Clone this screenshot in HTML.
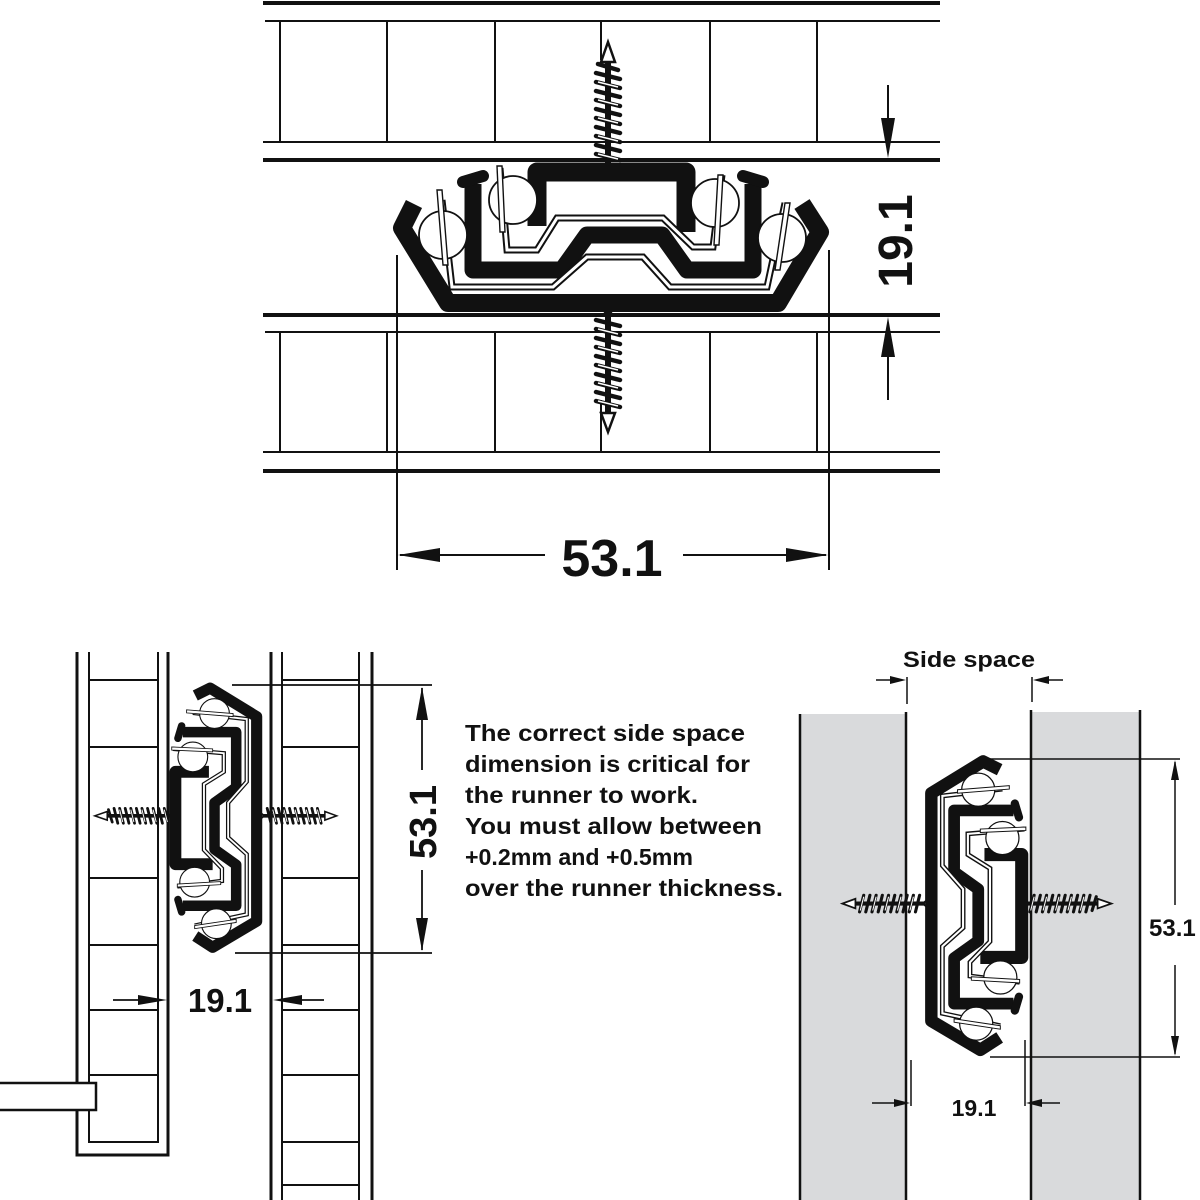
<!DOCTYPE html>
<html><head><meta charset="utf-8"><style>
html,body{margin:0;padding:0;background:#fff;}
svg{display:block;}
text{font-family:"Liberation Sans",Arial,sans-serif;font-weight:bold;fill:#111;}
</style></head><body>
<svg width="1200" height="1200" viewBox="0 0 1200 1200" xmlns="http://www.w3.org/2000/svg">
<defs>
<g id="screwUp">
  <path d="M197,18 L225,18 L214,4 L214,-100 L208,-100 L208,4 Z" fill="#111"/>
  <path d="M201,16 L221,16 L212,6 L210,6 Z" fill="#fff"/>
  <path d="M211,-118 L204,-98 L218,-98 Z" fill="#fff" stroke="#111" stroke-width="2.5"/>
  <g stroke="#111" stroke-width="4.5" fill="none" stroke-linecap="round">
    <line x1="199" y1="-6" x2="223" y2="0"/><line x1="199" y1="-15" x2="223" y2="-9"/>
    <line x1="199" y1="-24" x2="223" y2="-18"/><line x1="199" y1="-33" x2="223" y2="-27"/>
    <line x1="199" y1="-42" x2="223" y2="-36"/><line x1="199" y1="-51" x2="223" y2="-45"/>
    <line x1="199" y1="-60" x2="223" y2="-54"/><line x1="199" y1="-69" x2="223" y2="-63"/>
    <line x1="199" y1="-78" x2="223" y2="-72"/><line x1="199" y1="-87" x2="223" y2="-81"/>
    <line x1="201" y1="-96" x2="221" y2="-90"/>
  </g>
  <g stroke="#fff" stroke-width="1.5" fill="none">
    <line x1="201" y1="-6" x2="221" y2="-1"/><line x1="201" y1="-24" x2="221" y2="-19"/>
    <line x1="201" y1="-42" x2="221" y2="-37"/><line x1="201" y1="-60" x2="221" y2="-55"/>
    <line x1="201" y1="-78" x2="221" y2="-73"/>
  </g>
</g>
<g id="screwDown">
  <path d="M197,140 L225,140 L214,154 L214,255 L208,255 L208,154 Z" fill="#111"/>
  <path d="M201,142 L221,142 L212,152 L210,152 Z" fill="#fff"/>
  <path d="M211,272 L204,253 L218,253 Z" fill="#fff" stroke="#111" stroke-width="2.5"/>
  <g stroke="#111" stroke-width="4.5" fill="none" stroke-linecap="round">
    <line x1="199" y1="160" x2="223" y2="166"/><line x1="199" y1="169" x2="223" y2="175"/>
    <line x1="199" y1="178" x2="223" y2="184"/><line x1="199" y1="187" x2="223" y2="193"/>
    <line x1="199" y1="196" x2="223" y2="202"/><line x1="199" y1="205" x2="223" y2="211"/>
    <line x1="199" y1="214" x2="223" y2="220"/><line x1="199" y1="223" x2="223" y2="229"/>
    <line x1="199" y1="232" x2="223" y2="238"/><line x1="199" y1="241" x2="223" y2="247"/>
  </g>
  <g stroke="#fff" stroke-width="1.5" fill="none">
    <line x1="201" y1="169" x2="221" y2="174"/><line x1="201" y1="187" x2="221" y2="192"/>
    <line x1="201" y1="205" x2="221" y2="210"/><line x1="201" y1="223" x2="221" y2="228"/>
    <line x1="201" y1="241" x2="221" y2="246"/>
  </g>
</g>
<g id="runner">
  <use href="#screwUp"/>
  <use href="#screwDown"/>
  <!-- outer rail -->
  <path d="M17,44 L5,68 L51,143 L381,143 L423,72 L405,44" fill="none" stroke="#111" stroke-width="18" stroke-linejoin="round"/>
  <!-- middle rail -->
  <path d="M76,24 L76,110 L165,110 L190,75 L265,75 L290,110 L356,110 L356,24" fill="none" stroke="#111" stroke-width="17" stroke-linejoin="round"/>
  <path d="M66,22 L86,16 M346,16 L366,22" stroke="#111" stroke-width="12" stroke-linecap="round"/>
  <!-- inner rail -->
  <path d="M140,66 L140,12 L289,12 L289,72" fill="none" stroke="#111" stroke-width="19" stroke-linejoin="round"/>
  <!-- cages -->
  <path d="M45,40 L55,127 L156,127 L190,97 L246,97 L273,127 L370,127 L388,43" fill="none" stroke="#111" stroke-width="7"/>
  <path d="M45,40 L55,127 L156,127 L190,97 L246,97 L273,127 L370,127 L388,43" fill="none" stroke="#fff" stroke-width="3"/>
  <path d="M103,8 L110,90 L140,90 L160,58 L266,58 L296,87 L316,87 L325,15" fill="none" stroke="#111" stroke-width="7"/>
  <path d="M103,8 L110,90 L140,90 L160,58 L266,58 L296,87 L316,87 L325,15" fill="none" stroke="#fff" stroke-width="3"/>
  <!-- balls -->
  <g fill="#fff" stroke="#111" stroke-width="1.8">
    <circle cx="46" cy="75" r="24"/><circle cx="116" cy="40" r="24"/>
    <circle cx="318" cy="43" r="24"/><circle cx="385" cy="78" r="24"/>
  </g>
  <g fill="#fff" stroke="#111" stroke-width="1.4">
    <path d="M40,30 L45,30 L51,105 L46,105 Z"/>
    <path d="M100,6 L105,6 L108,72 L103,72 Z"/>
    <path d="M321,15 L326,15 L322,85 L317,85 Z"/>
    <path d="M388,43 L393,43 L383,110 L378,110 Z"/>
  </g>
</g>
</defs>

<!-- TOP VIEW boards -->
<g stroke="#111" fill="none">
  <line x1="263" y1="3" x2="940" y2="3" stroke-width="4"/>
  <line x1="265" y1="21" x2="940" y2="21" stroke-width="2"/>
  <line x1="263" y1="142" x2="940" y2="142" stroke-width="2"/>
  <line x1="263" y1="160" x2="940" y2="160" stroke-width="4"/>
  <line x1="263" y1="315" x2="940" y2="315" stroke-width="4"/>
  <line x1="265" y1="332" x2="940" y2="332" stroke-width="2"/>
  <line x1="263" y1="452" x2="940" y2="452" stroke-width="2"/>
  <line x1="263" y1="471" x2="940" y2="471" stroke-width="4"/>
  <g stroke-width="2">
    <line x1="280" y1="21" x2="280" y2="142"/><line x1="387" y1="21" x2="387" y2="142"/>
    <line x1="495" y1="21" x2="495" y2="142"/><line x1="601" y1="21" x2="601" y2="60"/>
    <line x1="710" y1="21" x2="710" y2="142"/><line x1="817" y1="21" x2="817" y2="142"/>
    <line x1="280" y1="332" x2="280" y2="452"/><line x1="387" y1="332" x2="387" y2="452"/>
    <line x1="495" y1="332" x2="495" y2="452"/><line x1="601" y1="400" x2="601" y2="452"/>
    <line x1="710" y1="332" x2="710" y2="452"/><line x1="817" y1="332" x2="817" y2="452"/>
  </g>
</g>
<use href="#runner" transform="translate(397,160)"/>
<!-- top dims -->
<g stroke="#111" stroke-width="2" fill="none">
  <line x1="397" y1="255" x2="397" y2="570"/>
  <line x1="829" y1="250" x2="829" y2="570"/>
  <line x1="400" y1="555" x2="545" y2="555"/>
  <line x1="683" y1="555" x2="826" y2="555"/>
  <line x1="888" y1="85" x2="888" y2="135"/>
  <line x1="888" y1="340" x2="888" y2="400"/>
</g>
<g fill="#111">
  <path d="M398,555 L440,548 L440,562 Z"/>
  <path d="M828,555 L786,548 L786,562 Z"/>
  <path d="M888,158 L881,118 L895,118 Z"/>
  <path d="M888,317 L881,357 L895,357 Z"/>
</g>
<text x="612" y="576" font-size="52" text-anchor="middle">53.1</text>
<text transform="translate(912,241) rotate(-90)" font-size="48" text-anchor="middle">19.1</text>

<!-- BOTTOM LEFT -->
<g stroke="#111" fill="none" stroke-width="2">
  <path d="M77,652 L77,1155 L168,1155 L168,652" stroke-width="3"/>
  <path d="M89,652 L89,1142 L158,1142 L158,652"/>
  <g>
    <line x1="89" y1="680" x2="158" y2="680"/><line x1="89" y1="747" x2="158" y2="747"/>
    <line x1="89" y1="878" x2="158" y2="878"/><line x1="89" y1="945" x2="158" y2="945"/>
    <line x1="89" y1="1010" x2="158" y2="1010"/><line x1="89" y1="1075" x2="158" y2="1075"/>
  </g>
  <line x1="271" y1="652" x2="271" y2="1200" stroke-width="3"/>
  <line x1="372" y1="652" x2="372" y2="1200" stroke-width="3"/>
  <line x1="282" y1="652" x2="282" y2="1200"/>
  <line x1="359" y1="652" x2="359" y2="1200"/>
  <g>
    <line x1="282" y1="680" x2="359" y2="680"/><line x1="282" y1="747" x2="359" y2="747"/>
    <line x1="282" y1="878" x2="359" y2="878"/><line x1="282" y1="945" x2="359" y2="945"/>
    <line x1="282" y1="1010" x2="359" y2="1010"/><line x1="282" y1="1075" x2="359" y2="1075"/>
    <line x1="282" y1="1142" x2="359" y2="1142"/><line x1="282" y1="1185" x2="359" y2="1185"/>
  </g>
  <rect x="-5" y="1083" width="101" height="27" fill="#fff" stroke-width="2.5"/>
</g>
<use href="#runner" transform="matrix(0,0.62,0.62,0,168,685)"/>
<g stroke="#111" stroke-width="1.8" fill="none">
  <line x1="232" y1="685" x2="432" y2="685"/>
  <line x1="235" y1="953" x2="432" y2="953"/>
  <line x1="422" y1="688" x2="422" y2="770"/>
  <line x1="422" y1="870" x2="422" y2="950"/>
  <line x1="113" y1="1000" x2="160" y2="1000"/>
  <line x1="280" y1="1000" x2="324" y2="1000"/>
</g>
<g fill="#111">
  <path d="M422,687 L416,720 L428,720 Z"/>
  <path d="M422,951 L416,918 L428,918 Z"/>
  <path d="M167,1000 L138,995 L138,1005 Z"/>
  <path d="M273,1000 L302,995 L302,1005 Z"/>
</g>
<text transform="translate(436,822) rotate(-90)" font-size="38" text-anchor="middle">53.1</text>
<text x="220" y="1012" font-size="33" text-anchor="middle">19.1</text>

<g font-size="23">
  <text x="465" y="741" textLength="280" lengthAdjust="spacingAndGlyphs">The correct side space</text>
  <text x="465" y="772" textLength="285" lengthAdjust="spacingAndGlyphs">dimension is critical for</text>
  <text x="465" y="803" textLength="233" lengthAdjust="spacingAndGlyphs">the runner to work.</text>
  <text x="465" y="834" textLength="297" lengthAdjust="spacingAndGlyphs">You must allow between</text>
  <text x="465" y="865" textLength="228" lengthAdjust="spacingAndGlyphs">+0.2mm and +0.5mm</text>
  <text x="465" y="896" textLength="318" lengthAdjust="spacingAndGlyphs">over the runner thickness.</text>
</g>

<!-- BOTTOM RIGHT -->
<rect x="800" y="714" width="105" height="486" fill="#d9dadc"/>
<rect x="1031" y="712" width="110" height="488" fill="#d9dadc"/>
<g stroke="#111" stroke-width="2.5">
  <line x1="800" y1="714" x2="800" y2="1200"/>
  <line x1="906" y1="712" x2="906" y2="1200"/>
  <line x1="1031" y1="710" x2="1031" y2="1200"/>
  <line x1="1140" y1="710" x2="1140" y2="1200"/>
</g>
<use href="#runner" transform="matrix(0,0.69,-0.69,0,1030,758)"/>
<g stroke="#111" stroke-width="1.5" fill="none">
  <line x1="907" y1="677" x2="907" y2="704"/>
  <line x1="1032" y1="677" x2="1032" y2="702"/>
  <line x1="876" y1="680" x2="900" y2="680"/>
  <line x1="1038" y1="680" x2="1063" y2="680"/>
  <line x1="990" y1="759" x2="1180" y2="759"/>
  <line x1="990" y1="1057" x2="1180" y2="1057"/>
  <line x1="1175" y1="762" x2="1175" y2="905"/>
  <line x1="1175" y1="965" x2="1175" y2="1054"/>
  <line x1="911" y1="1060" x2="911" y2="1106"/>
  <line x1="1025" y1="1040" x2="1025" y2="1106"/>
  <line x1="872" y1="1103" x2="900" y2="1103"/>
  <line x1="1035" y1="1103" x2="1060" y2="1103"/>
</g>
<g fill="#111">
  <path d="M906,680 L890,676 L890,684 Z"/>
  <path d="M1033,680 L1049,676 L1049,684 Z"/>
  <path d="M1175,760 L1171,780 L1179,780 Z"/>
  <path d="M1175,1056 L1171,1036 L1179,1036 Z"/>
  <path d="M910,1103 L894,1099 L894,1107 Z"/>
  <path d="M1026,1103 L1042,1099 L1042,1107 Z"/>
</g>
<text x="903" y="667" font-size="22" textLength="132" lengthAdjust="spacingAndGlyphs">Side space</text>
<text x="1149" y="936" font-size="24">53.1</text>
<text x="974" y="1116" font-size="23" text-anchor="middle">19.1</text>
</svg>
</body></html>
